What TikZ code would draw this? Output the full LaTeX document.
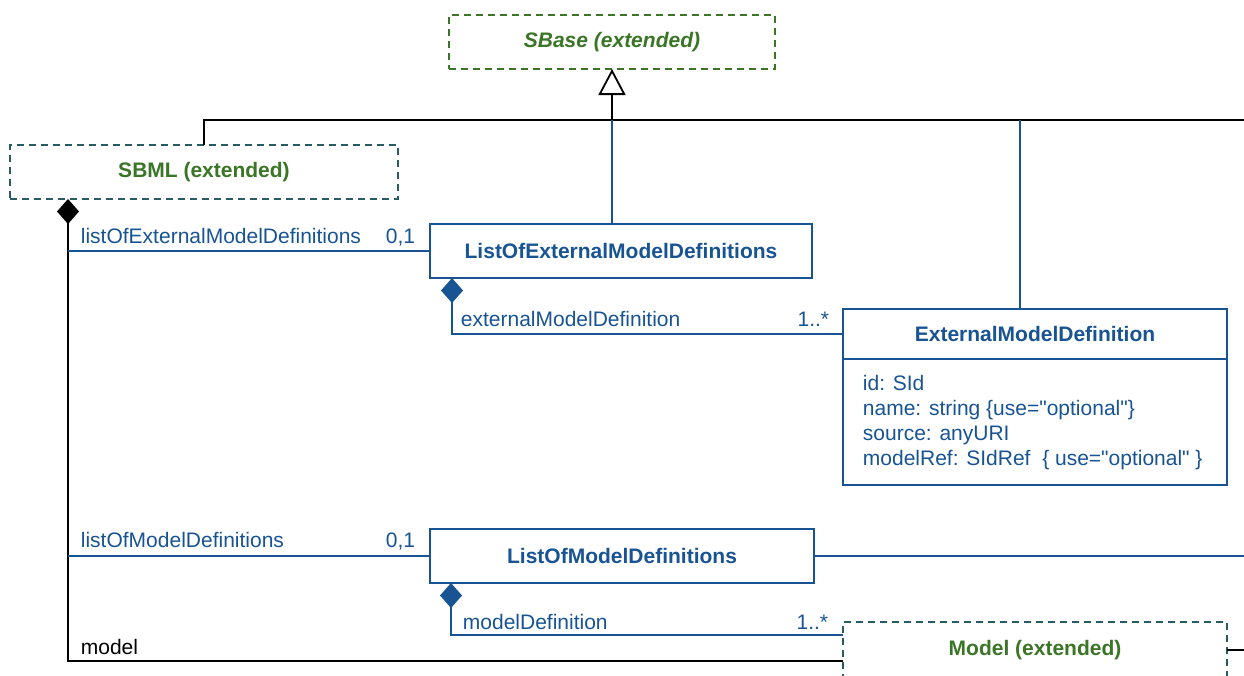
\documentclass[tikz,border=0pt]{standalone}
\usepackage{fontspec}
\setmainfont{Liberation Sans}[Ligatures=TeXOff]
\usetikzlibrary{arrows.meta,calc}
\definecolor{umlblue}{RGB}{24,84,148}
\definecolor{umlgreen}{RGB}{58,118,38}
\definecolor{umlteal}{RGB}{40,92,100}
\newcommand\dfont{\fontsize{21}{25}\selectfont}
\begin{document}
\begin{tikzpicture}[x=1pt,y=-1pt, line width=1.8pt,
  box/.style={draw=umlblue, fill=white, inner sep=0pt, outer sep=0pt, font=\dfont\bfseries, text=umlblue},
  extbox/.style={draw, dash pattern=on 7pt off 5pt, inner sep=0pt, outer sep=0pt, font=\dfont\bfseries, text=umlgreen},
  role/.style={text=umlblue, inner sep=0pt, anchor=base west, font=\dfont},
  mult/.style={text=umlblue, inner sep=0pt, anchor=base east, font=\dfont},
  attr/.style={text=umlblue, inner sep=0pt, anchor=north west, align=left, font=\dfont},
  assoc/.style={draw=umlblue},
  comp/.style={{Diamond[length=25pt,width=22pt]}-}]
\useasboundingbox (0,0) rectangle (1244,675);
\fill[white] (0,0) rectangle (1244,675);

% coordinates
\coordinate (hub) at (0,120);
\coordinate (xa) at (68,0);
\coordinate (xb) at (452,0);
\coordinate (xc) at (451,0);
\coordinate (xe) at (1020,0);
\coordinate (redge) at (1250,0);

% classes
\node[extbox, draw=umlgreen, font=\dfont\bfseries\itshape, minimum width=326pt, minimum height=54pt] (sbase) at (612,42) {SBase (extended)};
\node[extbox, draw=umlteal, minimum width=388pt, minimum height=54pt] (sbml) at (204,172) {SBML (extended)};
\node[box, minimum width=382pt, minimum height=54pt] (loemd) at (621,251) {ListOfExternalModelDefinitions};
\node[box, minimum width=384pt, minimum height=50pt] (emd) at (1035,334) {ExternalModelDefinition};
\node[box, anchor=north, minimum width=384pt, minimum height=126pt] (emdbody) at (emd.south) {};
\node[attr] (emdattr) at (862,374) {id: SId\\name: string \{use="optional"\}\\source: anyURI\\modelRef: SIdRef~~\{ use="optional" \}};
\node[box, minimum width=384pt, minimum height=54pt] (lomd) at (622,556) {ListOfModelDefinitions};
\node[extbox, draw=umlteal, anchor=north, minimum width=384pt, minimum height=56pt] (model) at (1035,622) {Model (extended)};

% generalisation
\draw[black] (sbml.north) -- (sbml.north |- hub) -- (redge |- hub);
\draw[assoc] (loemd.north -| sbase.south) -- (hub -| sbase.south);
\draw[assoc] (emd.north -| xe) -- (hub -| xe);
\draw[black,-{Triangle[open,fill=white,length=26pt,width=27pt]}] (sbase.south |- hub) -- (sbase.south);

% compositions / associations
\draw[black, comp] (sbml.south -| xa) |- ($(model.north west)+(0,39)$);
\draw[assoc] (loemd.west) -- (loemd.west -| xa);
\draw[assoc, comp] (loemd.south -| xb) |- (emd.west);
\draw[assoc] (lomd.west) -- (lomd.west -| xa);
\draw[assoc] (lomd.east) -- (lomd.east -| redge);
\draw[assoc, comp] (lomd.south -| xc) |- ($(model.north west)+(0,13)$);
\draw[black] (model.east) -- (model.east -| redge);

% labels
\node[role] (l1) at (80,243) {listOfExternalModelDefinitions};
\node[mult] (m1) at (416,243) {0,1};
\node[role] (l2) at (460,326) {externalModelDefinition};
\node[mult] (m2) at (830,326) {1..*};
\node[role] (l3) at (80,547) {listOfModelDefinitions};
\node[mult] (m3) at (416,547) {0,1};
\node[role] (l4) at (462,629) {modelDefinition};
\node[mult] (m4) at (829,629) {1..*};
\node[role, text=black] (l5) at (80,654) {model};
\end{tikzpicture}
\end{document}
